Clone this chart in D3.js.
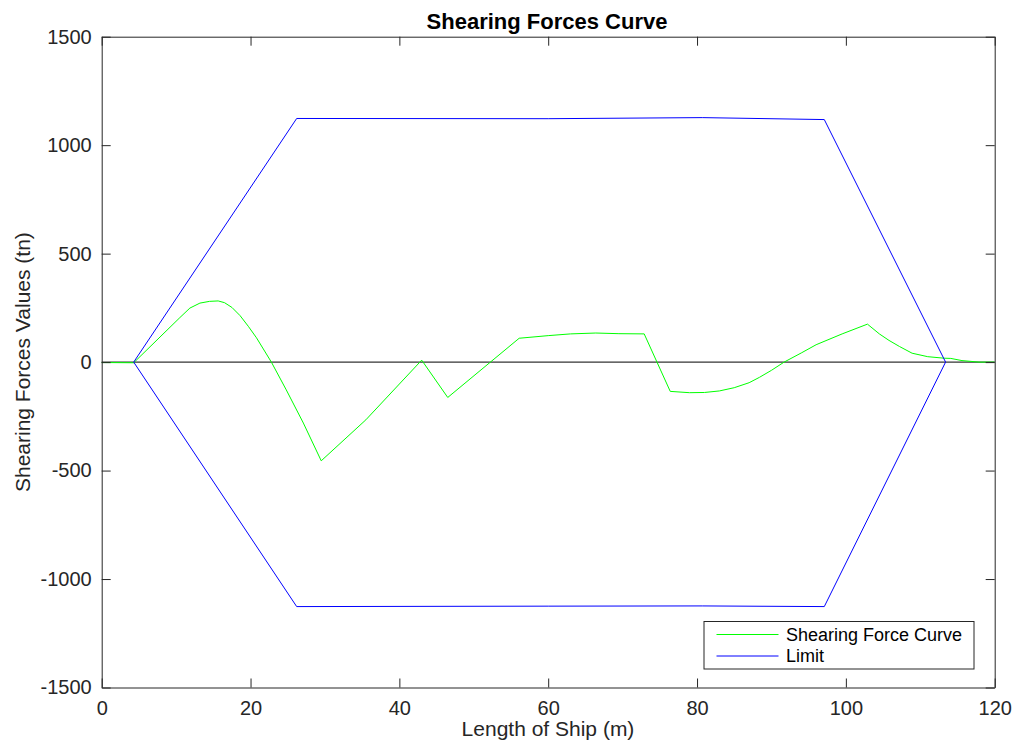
<!DOCTYPE html>
<html>
<head>
<meta charset="utf-8">
<script src="https://cdn.jsdelivr.net/npm/d3@7"></script>
<style>
  html, body { margin: 0; padding: 0; background: #fff; }
  svg { display: block; font-family: "Liberation Sans", Arial, Helvetica, sans-serif; }
</style>
</head>
<body>
<script>
// Shear force distribution along the ship (m, tn)
const shearX = [0, 4.3, 10.5, 11.85, 13.2, 14.5, 15.65, 16.5, 17.5, 18.6, 19.7, 20.8, 22.8,
                24.8, 27.1, 29.5, 35.5, 43.0, 46.5, 56.1, 60.0, 63.0, 66.4, 69.5, 72.9,
                76.4, 79.0, 81.0, 83.0, 85.0, 87.0, 88.4, 90.0, 91.7, 94.0, 96.0, 99.5,
                102.9, 104.5, 105.8, 107.2, 108.9, 111.0, 113.2, 114.1, 115.6, 117.9, 120];
const shearY = [-2, -3, 205, 249, 272, 280, 282, 274, 252, 214, 165, 112, 0,
                -128, -281, -455, -266, 9, -163, 110, 122, 130, 134, 131, 130,
                -135, -141, -140, -133, -118, -95, -70, -38, 0, 42, 80, 130,
                175, 130, 100, 72, 41, 25, 18, 17, 7, 0, 0];

// Permissible shear force envelope
const limitX     = [4.3, 26.2, 60.0, 80.7, 97.1, 113.4];
const limitUpper = [0, 1123, 1122, 1127, 1118, 0];
const limitLower = [0, -1127, -1125, -1124, -1127, 0];

// Reference (zero) line
const zeroX = [0, 120];
const zeroY = [0, 0];

const xTicks = [0, 20, 40, 60, 80, 100, 120];
const yTicks = [-1500, -1000, -500, 0, 500, 1000, 1500];

const seriesNames = ["Shearing Force Curve", "Limit"];
const seriesColors = ["#00ff00", "#0000ff"];

const W = 1016, H = 744;
const plotL = 101.7, plotR = 994.7, plotT = 36.7, plotB = 687.5;
const axisColor = "#262626";

const svg = d3.select("body").append("svg")
  .attr("width", W).attr("height", H);

const x = d3.scaleLinear().domain([0, 120]).range([plotL, plotR]);
const y = d3.scaleLinear().domain([-1500, 1500]).range([plotB, plotT]);

const line = d3.line().x(d => x(d[0])).y(d => y(d[1]));
const zip = (a, b) => a.map((v, i) => [v, b[i]]);
const plain = d => String(d);

// data lines
svg.append("path").datum(zip(zeroX, zeroY))
  .attr("d", line).attr("fill", "none")
  .attr("stroke", "#000").attr("stroke-width", 1);

svg.append("path").datum(zip(shearX, shearY))
  .attr("d", line).attr("fill", "none")
  .attr("stroke", seriesColors[0]).attr("stroke-width", 1)
  .attr("stroke-linejoin", "round");

svg.append("path").datum(zip(limitX, limitUpper))
  .attr("d", line).attr("fill", "none")
  .attr("stroke", seriesColors[1]).attr("stroke-width", 1);
svg.append("path").datum(zip(limitX, limitLower))
  .attr("d", line).attr("fill", "none")
  .attr("stroke", seriesColors[1]).attr("stroke-width", 1);

// axes with inward ticks on all four sides
const tickLen = 9;
const tickFont = "Liberation Sans, Arial, sans-serif";
function styleAxis(g) {
  g.select(".domain").attr("stroke", axisColor).attr("stroke-width", 1);
  g.selectAll(".tick line").attr("stroke", axisColor).attr("stroke-width", 1);
  g.selectAll(".tick text").attr("fill", axisColor)
    .attr("font-size", 20).attr("font-family", tickFont);
}

svg.append("g").attr("transform", `translate(0,${plotB})`)
  .call(d3.axisBottom(x).tickValues(xTicks).tickFormat(plain)
    .tickSizeInner(-tickLen).tickSizeOuter(0).tickPadding(13))
  .call(styleAxis);

svg.append("g").attr("transform", `translate(0,${plotT})`)
  .call(d3.axisTop(x).tickValues(xTicks).tickSizeInner(-tickLen).tickSizeOuter(0).tickFormat(""))
  .call(styleAxis);

svg.append("g").attr("transform", `translate(${plotL},0)`)
  .call(d3.axisLeft(y).tickValues(yTicks).tickFormat(plain)
    .tickSizeInner(-tickLen).tickSizeOuter(0).tickPadding(10))
  .call(styleAxis);

svg.append("g").attr("transform", `translate(${plotR},0)`)
  .call(d3.axisRight(y).tickValues(yTicks).tickSizeInner(-tickLen).tickSizeOuter(0).tickFormat(""))
  .call(styleAxis);

// title and axis labels
svg.append("text")
  .attr("x", 547).attr("y", 29)
  .attr("text-anchor", "middle")
  .attr("font-size", 22).attr("font-weight", "bold").attr("fill", "#000")
  .text("Shearing Forces Curve");

svg.append("text")
  .attr("x", 548).attr("y", 736)
  .attr("text-anchor", "middle")
  .attr("font-size", 21).attr("fill", axisColor)
  .text("Length of Ship (m)");

svg.append("text")
  .attr("transform", `translate(30,${(plotT + plotB) / 2}) rotate(-90)`)
  .attr("text-anchor", "middle")
  .attr("font-size", 21).attr("fill", axisColor)
  .text("Shearing Forces Values (tn)");

// legend
const lg = svg.append("g");
lg.append("rect")
  .attr("x", 704).attr("y", 621.5)
  .attr("width", 270).attr("height", 47.5)
  .attr("fill", "#fff").attr("stroke", axisColor).attr("stroke-width", 1);
seriesNames.forEach((name, i) => {
  const yy = 634.5 + i * 21.5;
  lg.append("line")
    .attr("x1", 716.5).attr("x2", 778.5)
    .attr("y1", yy).attr("y2", yy)
    .attr("stroke", seriesColors[i]).attr("stroke-width", 1);
  lg.append("text")
    .attr("x", 786).attr("y", yy + 6)
    .attr("font-size", 18).attr("fill", "#000")
    .text(name);
});
</script>
</body>
</html>
